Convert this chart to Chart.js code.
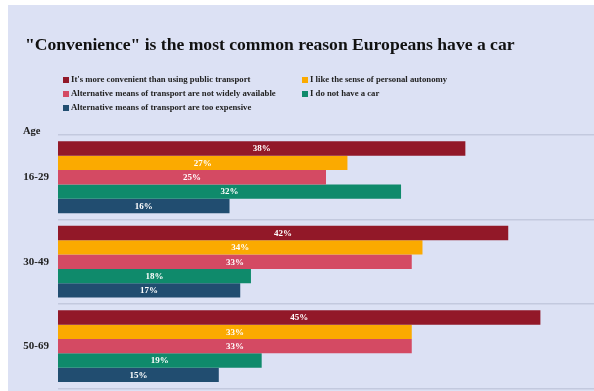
<!DOCTYPE html>
<html>
<head>
<meta charset="utf-8">
<script src="https://cdn.jsdelivr.net/npm/chart.js@4/dist/chart.umd.min.js"></script>
<style>
  html, body { margin: 0; padding: 0; background: #fff; }
  #wrap { position: relative; width: 594px; height: 391px; background: #fff; overflow: hidden; }
  #chart { position: absolute; left: 8px; top: 5px; background: #dce1f4; }
</style>
</head>
<body>
<div id="wrap"><canvas id="chart" width="586" height="399"></canvas></div>
<script>
const ageGroups = ['16-29', '30-49', '50-69'];
const reasons = [
  "It's more convenient than using public transport",
  'I like the sense of personal autonomy',
  'Alternative means of transport are not widely available',
  'I do not have a car',
  'Alternative means of transport are too expensive'
];
const convenient = [38, 42, 45];
const autonomy = [27, 34, 33];
const notAvailable = [25, 33, 33];
const noCar = [32, 18, 19];
const tooExpensive = [16, 17, 15];
const colors = ['#921828', '#fbaa00', '#d44a63', '#0f8a6b', '#214d70'];

const serif = '"Liberation Serif", "DejaVu Serif", serif';
const titleText = '"Convenience" is the most common reason Europeans have a car';

// title, two-column legend and the "Age" caption
const decorations = {
  id: 'decorations',
  afterDraw(chart) {
    const ctx = chart.ctx;
    ctx.save();
    ctx.fillStyle = '#111';
    ctx.textBaseline = 'middle';
    ctx.textAlign = 'left';
    ctx.font = 'bold 17.6px ' + serif;
    ctx.fillText(titleText, 17, 40);

    ctx.font = 'bold 8.7px ' + serif;
    chart.data.datasets.forEach((ds, i) => {
      const col = i % 2, row = Math.floor(i / 2);
      const x = col === 0 ? 55 : 294;
      const y = 75 + row * 14;
      ctx.fillStyle = ds.backgroundColor;
      ctx.fillRect(x, y - 3, 6, 6);
      ctx.fillStyle = '#222';
      ctx.fillText(ds.label, x + 8, y);
    });

    ctx.font = 'bold 10.5px ' + serif;
    ctx.fillText('Age', 15, 126);
    ctx.restore();
  }
};

// value labels centred inside each bar
const barValues = {
  id: 'barValues',
  afterDatasetsDraw(chart) {
    const ctx = chart.ctx;
    ctx.save();
    ctx.font = 'bold 9px ' + serif;
    ctx.fillStyle = '#fff';
    ctx.textAlign = 'center';
    ctx.textBaseline = 'middle';
    chart.data.datasets.forEach((ds, i) => {
      chart.getDatasetMeta(i).data.forEach((bar, j) => {
        ctx.fillText(ds.data[j] + '%', (bar.x + bar.base) / 2, bar.y + 0.5);
      });
    });
    ctx.restore();
  }
};

const series = [convenient, autonomy, notAvailable, noCar, tooExpensive];

new Chart(document.getElementById('chart').getContext('2d'), {
  type: 'bar',
  data: {
    labels: ageGroups,
    datasets: series.map((values, i) => ({
      label: reasons[i],
      data: values,
      backgroundColor: colors[i],
      borderWidth: 0,
      categoryPercentage: 0.85,
      barPercentage: 1.0
    }))
  },
  options: {
    indexAxis: 'y',
    responsive: false,
    animation: false,
    layout: { padding: { top: 130, bottom: 2, left: 0, right: 0 } },
    plugins: {
      legend: { display: false },
      title: { display: false },
      tooltip: { enabled: false }
    },
    scales: {
      x: { display: false, min: 0, max: 50 },
      y: {
        border: { display: false },
        grid: { color: '#c3c9de', lineWidth: 1.5, drawTicks: false, offset: true },
        ticks: { color: '#222', padding: 9, font: { family: serif, size: 11, weight: 'bold' } },
        afterFit(scale) { scale.width = 50; }
      }
    }
  },
  plugins: [decorations, barValues]
});
</script>
</body>
</html>
